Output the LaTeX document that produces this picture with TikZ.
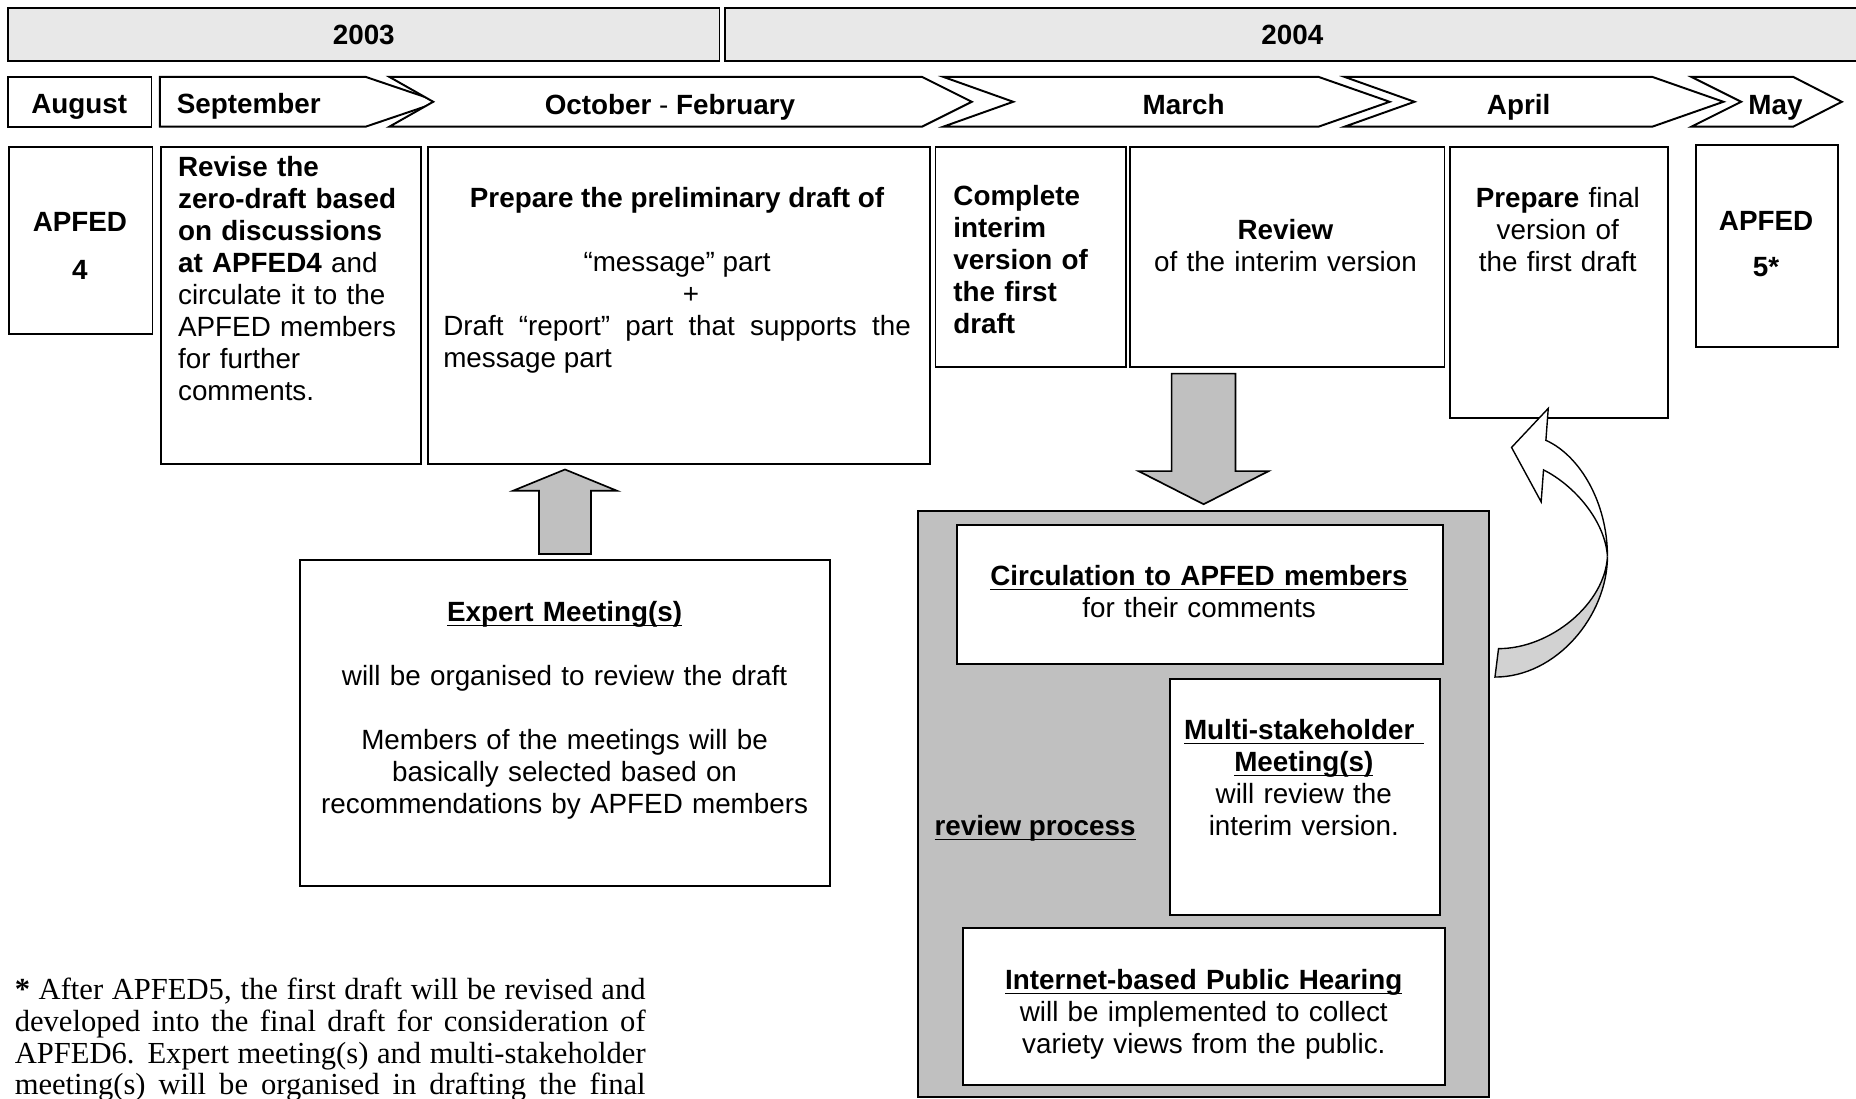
\documentclass[tikz,border=0pt]{standalone}
\usepackage{fontspec}
\setmainfont{Liberation Sans}
\newfontfamily\notefont{Liberation Serif}
\usetikzlibrary{calc}

\newcommand\pxu{0.4255pt}
\newcommand\boxfont{\fontsize{10}{11.5}\selectfont}
\newcommand\ul[1]{\underline{\smash{#1}}}
\definecolor{yeargray}{RGB}{232,232,232}
\definecolor{panelgray}{RGB}{192,192,192}
\definecolor{bendgray}{RGB}{210,210,210}

\tikzset{
	box/.style={draw, line width=.7pt, fill=white, inner sep=0pt, anchor=north west},
	pbox/.style n args={2}{box, minimum width=#1*\pxu, minimum height=#2*\pxu},
	txt/.style={inner sep=0pt, font=\boxfont, anchor=base},
	btxt/.style={txt, font=\boxfont\bfseries},
	month/.style={draw, line width=.7pt, fill=white},
	blockarrow/.style={draw, line width=.6pt, fill=panelgray}
}

\begin{document}
\begin{tikzpicture}[x=\pxu, y=-\pxu]
	\useasboundingbox (0,0) rectangle (1568,928);
	\clip (0,0) rectangle (1568,928);
	%years
	\node[pbox={601}{45}, fill=yeargray, font=\boxfont\bfseries] (y2003) at (6,6) {2003};
	\node[pbox={958}{45}, fill=yeargray, font=\boxfont\bfseries] (y2004) at (612,6) {2004};
	%months
	\draw[month] (7,65) rectangle (128,107);
	\foreach \xl/\xr/\xt/\xn in {135/309/371/135, 329/779/821/366, 797/1114/1174/856, 1136/1396/1456/1195, 1429/1515/1556/1471}
	\draw[month] (\xl,65) -- (\xr,65) -- (\xt,86) -- (\xr,107) -- (\xl,107) -- (\xn,86) -- cycle;
	\node[btxt] (aug) at (67,96) {August};
	\node[btxt, anchor=base west] (sep) at (149,96) {September};
	\node[btxt] (octfeb) at (566,97) {October {\mdseries -} February};
	\node[btxt] (mar) at (1000,97) {March};
	\node[btxt] (apr) at (1283,97) {April};
	\node[btxt] (may) at (1500,97) {May};
	%stages
	\node[pbox={121}{158}] (apfed4) at (7,123) {};
	\node[btxt, text width=110*\pxu, align=center] (apfed4txt) at (67.5,196) {APFED\\[5.5pt]4};
	\node[pbox={219}{268}] (revise) at (135.5,123) {};
	\node[txt, anchor=base west, text width=205*\pxu, align=left] (revisetxt) at (150,149)
	{{\bfseries Revise the\\zero-draft based\\on discussions\\at APFED4} and\\circulate it to the\\APFED members\\for further\\comments.};
	\node[pbox={424}{268}] (prelim) at (360.5,123) {};
	\node[txt, text width=395*\pxu, align=justify] (prelimtxt) at (572,175.5)
	{{\centering\bfseries Prepare the preliminary draft of\\[\baselineskip]\mdseries “message” part\\\hspace*{1em}+\par}Draft “report” part that supports the\linebreak message part};
	\node[pbox={161}{186}] (complete) at (789.5,123) {};
	\node[btxt, anchor=base west, text width=140*\pxu, align=left] (completetxt) at (805,174) {Complete\\interim\\version of\\the first\\draft};
	\node[pbox={266}{186}] (review) at (953.5,123) {};
	\node[txt, text width=250*\pxu, align=center] (reviewtxt) at (1086,202) {\textbf{Review}\\of the interim version};
	\node[pbox={184}{229}] (final) at (1224,123) {};
	\node[txt, text width=170*\pxu, align=center] (finaltxt) at (1316,175.5) {\textbf{Prepare} final\\version of\\the first draft};
	\node[pbox={120}{170}] (apfed5) at (1432,122) {};
	\node[btxt, text width=110*\pxu, align=center] (apfed5txt) at (1492,194.5) {APFED\\[5pt]5*};
	%expert meetings
	\node[pbox={447}{276}] (expert) at (253,472) {};
	\node[txt, text width=430*\pxu, align=center] (experttxt) at (477,525)
	{\ul{\textbf{Expert Meeting(s)}}\\[\baselineskip]will be organised to review the draft\\[\baselineskip]Members of the meetings will be\\basically selected based on\\recommendations by APFED members};
	\coordinate (upbase) at ($(expert.north)+(0,-4)$);
	\coordinate (uptip) at ($(expert.north |- prelim.south)+(0,4)$);
	\draw[blockarrow] ($(upbase)+(-22,0)$) -- ($(uptip)+(-22,18)$) -- ($(uptip)+(-44,18)$) -- (uptip)
	-- ($(uptip)+(44,18)$) -- ($(uptip)+(22,18)$) -- ($(upbase)+(22,0)$) -- cycle;
	%review process
	\node[pbox={482}{495}, fill=panelgray] (panel) at (775,431) {};
	\node[pbox={410}{118}] (circ) at (808,442.5) {};
	\node[txt, text width=400*\pxu, align=center] (circtxt) at (1013,495) {\ul{\textbf{Circulation to APFED members}}\\for their comments};
	\node[pbox={228}{199}] (multi) at (987.5,573) {};
	\node[txt, text width=220*\pxu, align=center] (multitxt) at (1101.5,624.5)
	{\ul{\textbf{Multi-stakeholder\ }}\\\ul{\textbf{Meeting(s)}}\\will review the\\interim version.};
	\node[btxt] (revproc) at (874.5,706) {\ul{review process}};
	\node[pbox={407}{133}] (internet) at (813,783) {};
	\node[txt, text width=400*\pxu, align=center] (internettxt) at (1017,836)
	{\ul{\textbf{Internet-based Public Hearing}}\\will be implemented to collect\\variety views from the public.};
	\coordinate (dntop) at ($(panel.north |- review.south)+(0,5)$);
	\coordinate (dntip) at ($(panel.north)+(0,-5)$);
	\draw[blockarrow] ($(dntop)+(-27,0)$) -- ($(dntip)+(-27,-28)$) -- ($(dntip)+(-55,-28)$) -- (dntip)
	-- ($(dntip)+(55,-28)$) -- ($(dntip)+(27,-28)$) -- ($(dntop)+(27,0)$) -- cycle;
	%feedback arrow
	\coordinate (bo) at (1306,372);
	\coordinate (bt) at (1308,345);
	\coordinate (bl) at (1277,378);
	\coordinate (bn) at (1302,424);
	\coordinate (bi) at (1304,397);
	\coordinate (bm) at (1358,470);
	\coordinate (b1) at (1263,572);
	\coordinate (b2) at (1266,548);
	\draw[line width=.5pt, fill=bendgray] (b2) .. controls (1310,548) and (1356,510) .. (bm)
	.. controls (1358,520) and (1315,572) .. (b1) -- cycle;
	\draw[line width=.5pt, fill=white] (bo) -- (bt) -- (bl) -- (bn) -- (bi)
	.. controls (1330,410) and (1356,440) .. (bm) .. controls (1358,425) and (1335,385) .. (bo) -- cycle;
	%note
	\node[txt, anchor=base west, text width=533*\pxu, align=justify, font=\notefont\fontsize{11}{11.5}\selectfont] (note) at (12,844)
	{\parfillskip=0pt\textbf{*} After APFED5, the first draft will be revised and\linebreak developed into the final draft for consideration of\linebreak APFED6.  Expert meeting(s) and multi-stakeholder\linebreak meeting(s) will be organised in drafting the final\par};
\end{tikzpicture}
\end{document}
